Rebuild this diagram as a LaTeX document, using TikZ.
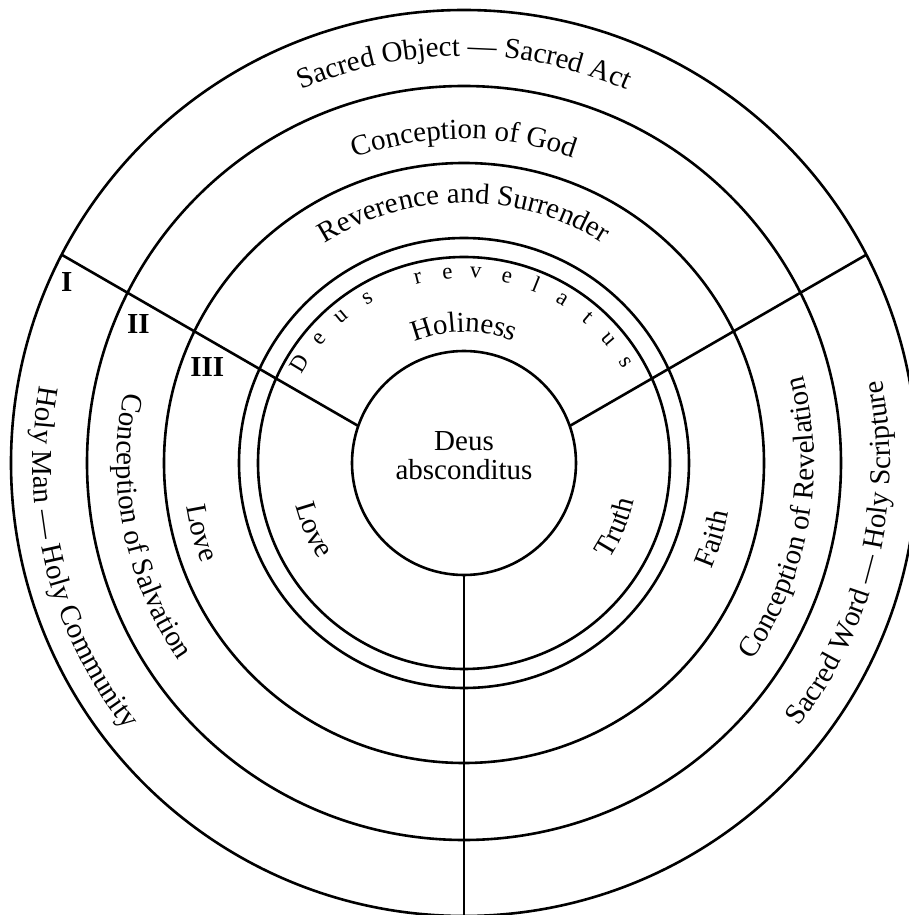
\documentclass[tikz,border=0pt]{standalone}
\usepackage{fontspec}
\setmainfont{Liberation Serif}
\usetikzlibrary{decorations.text,calc}
\newcommand\labfont{\fontsize{29}{34}\selectfont}
\newcommand\revfont{\fontsize{23}{28}\selectfont}
\begin{document}
\begin{tikzpicture}[x=1pt,y=1pt,
  ring/.style={line width=2.6pt},
  revlet/.style={font=\revfont, anchor=base, inner sep=0pt},
  numlab/.style={font=\labfont\bfseries, inner sep=0pt}
]
\useasboundingbox (-464,-452) rectangle (445,463);
\clip (-464,-452) rectangle (445,463);
\coordinate (C) at (0,0);
\coordinate (P) at (0,-24);
% circles
\foreach \r in {112,206,225,300,377,453} \draw[ring] (C) circle[radius=\r];
% radial dividers
\coordinate (ul1) at ($(P)+(150:122.05)$);
\coordinate (ul2) at ($(P)+(150:464.5)$);
\coordinate (ur1) at ($(P)+(30:122.05)$);
\coordinate (ur2) at ($(P)+(30:464.5)$);
\coordinate (b1) at (0,-112);
\coordinate (b2) at (0,-460);
\draw[ring] (ul1) -- (ul2);
\draw[ring] (ur1) -- (ur2);
\draw[ring] (b1) -- (b2);
% centre
\node[font=\labfont, anchor=base] (deus) at (0,12) {Deus};
\node[font=\labfont, anchor=base] (absc) at (0,-17) {absconditus};
% top texts (clockwise)
\path[decorate, decoration={text along path, text align=center, text={|\labfont|Sacred Object — Sacred Act}}]
  (150:407) arc[start angle=150, end angle=30, radius=407];
\path[decorate, decoration={text along path, text align=center, text={|\labfont|Conception of God}}]
  (150:324) arc[start angle=150, end angle=30, radius=324];
\path[decorate, decoration={text along path, text align=center, text={|\labfont|Reverence and Surrender}}]
  (150:260) arc[start angle=150, end angle=30, radius=260];
\path[decorate, decoration={text along path, text align=center, text={|\labfont|Holiness}}]
  (150:131) arc[start angle=150, end angle=30, radius=131];
% side texts (counter-clockwise)
\path[decorate, decoration={text along path, text align=center, text={|\labfont|Holy Man — Holy Community}}]
  (134:431) arc[start angle=134, end angle=254, radius=431];
\path[decorate, decoration={text along path, text align=center, text={|\labfont|Conception of Salvation}}]
  (131.5:347) arc[start angle=131.5, end angle=251.5, radius=347];
\path[decorate, decoration={text along path, text align=center, text={|\labfont|Love}}]
  (134.9:281) arc[start angle=134.9, end angle=254.9, radius=281];
\path[decorate, decoration={text along path, text align=center, text={|\labfont|Love}}]
  (144:174) arc[start angle=144, end angle=264, radius=174];
\path[decorate, decoration={text along path, text align=center, text={|\labfont|Truth}}]
  (-83:174) arc[start angle=-83, end angle=37, radius=174];
\path[decorate, decoration={text along path, text align=center, text={|\labfont|Faith}}]
  (-77:269) arc[start angle=-77, end angle=43, radius=269];
\path[decorate, decoration={text along path, text align=center, text={|\labfont|Conception of Revelation}}]
  (-70:350) arc[start angle=-70, end angle=50, radius=350];
\path[decorate, decoration={text along path, text align=center, text={|\labfont|Sacred Word — Holy Scripture}}]
  (-73.5:426) arc[start angle=-73.5, end angle=46.5, radius=426];
% Deus revelatus
\foreach \a/\ch in {149/D,139.5/e,130/u,120.5/s,104/r,95/e,86.5/v,77/e,68/l,59/a,49.5/t,40.5/u,32/s}
  \node[revlet, rotate=\a-90] at (\a:185) {\ch};
% numerals
\node[numlab] (n1) at (-397.3,180.7) {I};
\node[numlab] (n2) at (-325.7,139) {II};
\node[numlab] (n3) at (-256.7,95.7) {III};
\end{tikzpicture}
\end{document}
